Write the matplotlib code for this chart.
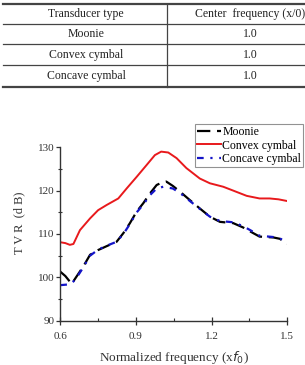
import matplotlib
matplotlib.use("Agg")
import matplotlib.pyplot as plt
from matplotlib.lines import Line2D
from matplotlib.ticker import MultipleLocator

plt.rcParams['font.family'] = ['Liberation Serif', 'DejaVu Serif']

# ---- table data ----
table_header = ["Transducer type", "Center  frequency (x/0)"]
transducers = ["Moonie", "Convex cymbal", "Concave cymbal"]
center_freq = ["1.0", "1.0", "1.0"]

# ---- chart data ----
convex_x = [0.60, 0.62, 0.638, 0.652, 0.678, 0.718, 0.75, 0.784, 0.83, 0.863, 0.903, 0.942,
            0.975, 1.0, 1.028, 1.061, 1.10, 1.153, 1.193, 1.246, 1.286, 1.339, 1.39, 1.43,
            1.465, 1.5]
convex_y = [108.1, 107.9, 107.5, 107.7, 110.9, 113.6, 115.5, 116.7, 118.2, 120.5, 123.2, 125.9,
            128.2, 129.0, 128.8, 127.5, 125.2, 122.8, 121.7, 120.9, 120.0, 118.8, 118.2, 118.2,
            118.0, 117.6]

moonie_x = [0.60, 0.62, 0.645, 0.691, 0.718, 0.75, 0.784, 0.823, 0.85, 0.876, 0.903, 0.929,
            0.956, 0.982, 1.0, 1.02, 1.046, 1.074, 1.114, 1.153, 1.193, 1.233, 1.286, 1.325,
            1.365, 1.39, 1.445, 1.47, 1.5]
moonie_y = [101.3, 100.3, 98.5, 102.5, 105.2, 106.3, 107.2, 108.2, 110.2, 112.5, 115.2, 117.1,
            119.4, 121.3, 121.8, 122.1, 121.1, 119.8, 117.8, 115.9, 114.0, 112.8, 112.5, 111.5,
            110.2, 109.4, 109.2, 108.9, 107.8]

concave_x = [0.60, 0.64, 0.66, 0.691, 0.718, 0.75, 0.784, 0.823, 0.85, 0.876, 0.903, 0.929,
             0.956, 0.982, 1.008, 1.046, 1.074, 1.114, 1.153, 1.193, 1.233, 1.286, 1.325,
             1.365, 1.39, 1.445, 1.47, 1.5]
concave_y = [98.2, 98.4, 99.5, 102.3, 105.0, 106.4, 107.3, 108.2, 110.0, 112.3, 115.0, 116.8,
             119.0, 120.5, 120.9, 120.5, 119.5, 117.6, 115.8, 114.0, 113.0, 112.7, 111.8,
             110.5, 109.6, 109.3, 109.0, 108.0]

W, H = 305, 365
fig = plt.figure(figsize=(W / 100, H / 100), dpi=100)

def fx(px):
    return px / W

def fy(py):
    return 1 - py / H

# ---- table ----
line_ys = [4, 24.3, 44.3, 65.3, 87.3]
for i, yy in enumerate(line_ys):
    fig.add_artist(Line2D([fx(3), fx(305)], [fy(yy), fy(yy)], color='#444444',
                          lw=1.6 if i in (0, 4) else 0.9))
fig.add_artist(Line2D([fx(167), fx(167)], [fy(4), fy(87.3)], color='#444444', lw=0.9))
col_x = [86, 250]
row_centers = [(line_ys[i] + line_ys[i + 1]) / 2 for i in range(4)]
for j, t in enumerate(table_header):
    fig.text(fx(col_x[j]), fy(row_centers[0]), t, ha='center', va='center', fontsize=8.5,
             color='#222222')
for i, (name, cf) in enumerate(zip(transducers, center_freq)):
    fig.text(fx(col_x[0]), fy(row_centers[i + 1]), name, ha='center', va='center',
             fontsize=8.5, color='#222222')
    fig.text(fx(col_x[1]), fy(row_centers[i + 1]), cf, ha='center', va='center',
             fontsize=8.5, color='#222222')

# ---- chart ----
ax = fig.add_axes([fx(60.3), fy(320.7), fx(287.3) - fx(60.3), fy(147.3) - fy(320.7)])
l1, = ax.plot(moonie_x, moonie_y, color='black', lw=1.6, linestyle=(0, (6, 3)), label='Moonie')
l2, = ax.plot(convex_x, convex_y, color='#e8191c', lw=1.4, linestyle='-', label='Convex cymbal')
l3, = ax.plot(concave_x, concave_y, color='#1414c8', lw=1.6, linestyle=(0, (3, 3, 1, 3)),
              label='Concave cymbal')

ax.set_xlim(0.6, 1.5)
ax.set_ylim(90, 130)
ax.xaxis.set_major_locator(MultipleLocator(0.3))
ax.xaxis.set_minor_locator(MultipleLocator(0.15))
ax.yaxis.set_major_locator(MultipleLocator(10))
ax.yaxis.set_minor_locator(MultipleLocator(5))
ax.spines['top'].set_visible(False)
ax.spines['right'].set_visible(False)
for s in ('left', 'bottom'):
    ax.spines[s].set_linewidth(1.0)
    ax.spines[s].set_color('#333333')
ax.tick_params(axis='x', which='major', direction='inout', length=6, width=0.9, labelsize=8,
               colors='#333333', pad=5)
ax.tick_params(axis='x', which='minor', direction='in', length=2.5, width=0.8,
               colors='#333333')
ax.tick_params(axis='y', which='major', direction='out', length=3, width=0.9, labelsize=8,
               colors='#333333', pad=1)
ax.tick_params(axis='y', which='minor', direction='inout', length=3, width=0.8,
               colors='#333333')

ax.set_xlabel(r'Normalized frequency (x$\it{f}$$_0$)', fontsize=9.5, color='#333333', labelpad=6)
ax.set_ylabel('T V R  (d B)', fontsize=9, color='#333333')
ax.yaxis.set_label_coords(-0.155, 0.563)

leg = fig.legend(handles=[l1, l2, l3], loc='upper left',
                 bbox_to_anchor=(fx(195), fy(124)), frameon=True, fancybox=False,
                 fontsize=8.5, handlelength=2.0, handletextpad=0.1, borderpad=0.2,
                 labelspacing=0.1, borderaxespad=0)
leg.get_frame().set_edgecolor('#777777')
leg.get_frame().set_linewidth(0.8)

fig.savefig('out.png', dpi=100)
